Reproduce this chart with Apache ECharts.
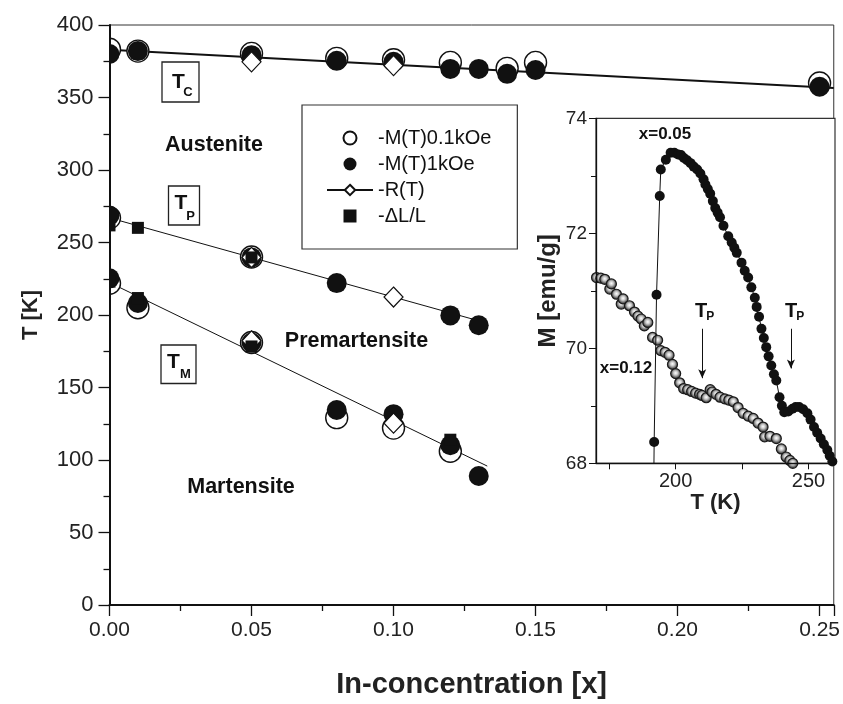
<!DOCTYPE html>
<html><head><meta charset="utf-8">
<script src="https://cdn.jsdelivr.net/npm/echarts@6/dist/echarts.min.js"></script>
<style>html,body{margin:0;padding:0;background:#fff}#c{width:843px;height:704px}</style>
</head><body><div id="c"></div>
<script>
// ---------- main panel data: [In-concentration x, T (K)] ----------
const tcOpen   = [[0,383.3],[0.01,382],[0.05,380.4],[0.08,377],[0.10,376],[0.12,374.2],[0.14,370.1],[0.15,374.2],[0.25,360]];
const tpOpen   = [[0,267],[0.05,240]];
const tmOpen   = [[0,221.9],[0.01,205],[0.05,181],[0.08,129.2],[0.10,122],[0.12,106]];
const tcFilled = [[0,380],[0.01,382],[0.05,379.2],[0.08,375.3],[0.10,374.6],[0.12,369.7],[0.13,369.7],[0.14,366.3],[0.15,369],[0.25,357.4]];
const tpFilled = [[0,268.6],[0.05,239.7],[0.08,222],[0.12,199.7],[0.13,192.9]];
const tmFilled = [[0,225.3],[0.01,208.3],[0.05,181],[0.08,134.5],[0.10,131.6],[0.12,110.2],[0.13,89]];
const rtDiamond = [[0.05,374.6],[0.10,372],[0.05,239.7],[0.10,212.4],[0.05,182.2],[0.10,125.4]];
const dlSquare  = [[0,261.8],[0.01,260.1],[0.05,239.7],[0,223],[0.01,211.7],[0.05,178.3],[0.12,114]];
const fitTc = [[0,383],[0.255,356.6]];
const fitTp = [[0,267],[0.13,196]];
const fitTm = [[0,222.4],[0.133,95.8]];

// ---------- inset data: T (K) and M (emu/g) ----------
const insetT05 = [191.3,191.9,192.8,194.0,194.4,196.3,198.1,199.5,200.9,202.0,203.1,204.3,205.6,206.8,208.1,209.3,210.5,211.2,212.1,213.0,214.0,214.9,215.8,216.7,218.0,219.8,221.1,222.1,223.0,224.8,226.0,227.3,228.5,229.8,230.5,231.4,232.3,233.2,234.1,235.0,236.0,237.0,237.9,239.1,240.0,240.9,242.4,244.0,245.2,246.5,248.0,249.6,250.8,252.1,253.3,254.6,255.8,257.1,258.0,259.0,260.0];
const insetM05 = [65.5,68.37,70.93,72.65,73.11,73.28,73.40,73.40,73.37,73.36,73.31,73.27,73.22,73.16,73.11,73.04,72.94,72.85,72.77,72.69,72.56,72.44,72.36,72.28,72.13,71.95,71.84,71.75,71.66,71.49,71.35,71.23,71.06,70.88,70.72,70.55,70.34,70.18,70.02,69.86,69.70,69.55,69.44,69.15,69.00,68.89,68.90,68.95,68.98,68.98,68.94,68.87,68.76,68.63,68.53,68.43,68.33,68.23,68.13,68.03,67.9];
const insetT12 = [170.2,171.8,173.3,175.2,175.8,177.7,179.5,180.2,182.6,184.5,185.8,187.0,188.2,189.5,191.3,193.2,194.4,196.0,197.5,198.8,200.0,201.5,203.0,204.5,206.0,207.5,209.0,209.9,211.5,213.0,213.7,215.2,216.7,218.5,220.0,221.7,223.5,225.4,227.3,229.2,231.0,232.9,233.5,235.5,237.9,239.8,241.6,243.0,244.1,245.0];
const insetM12 = [71.23,71.22,71.20,71.03,71.12,70.94,70.77,70.86,70.74,70.63,70.56,70.51,70.39,70.45,70.19,70.14,69.96,69.93,69.88,69.72,69.56,69.40,69.30,69.28,69.25,69.22,69.20,69.18,69.14,69.28,69.24,69.20,69.15,69.12,69.10,69.07,68.97,68.87,68.82,68.78,68.70,68.63,68.46,68.47,68.43,68.25,68.11,68.05,68.00,67.9];
const arrowT = [210, 243.4];
const arrowTop = [70.34, 70.34];
const arrowBottom = [69.48, 69.65];

// ---------- ticks ----------
const insetXTicks = [175, 200, 225, 250];
const insetXLabels = [200, 250];

const zip = (a, b) => a.map((v, i) => [v, b[i]]);
const FONT = 'Liberation Sans, Arial, sans-serif';

const chart = echarts.init(document.getElementById('c'), null, {renderer: 'canvas'});

function subLabel(x, y, w, h, main, sub, tx, ty, sx, sy) {
  return {
    type: 'group', z: 30, children: [
      {type: 'rect', shape: {x: x, y: y, width: w, height: h}, style: {fill: '#fff', stroke: '#222', lineWidth: 1.3}},
      {type: 'text', x: tx, y: ty, style: {text: main, font: 'bold 21px ' + FONT, fill: '#111', align: 'center', verticalAlign: 'middle'}},
      {type: 'text', x: sx, y: sy, style: {text: sub, font: 'bold 13px ' + FONT, fill: '#111', align: 'center', verticalAlign: 'middle'}}
    ]
  };
}
function plainText(x, y, t, size) {
  return {type: 'text', z: 30, x: x, y: y, style: {text: t, font: 'bold ' + size + 'px ' + FONT, fill: '#111', align: 'center', verticalAlign: 'middle'}};
}

const option = {
  animation: false,
  backgroundColor: '#fff',
  textStyle: {fontFamily: FONT},
  grid: [
    {left: 109.5, right: 8, top: 25, bottom: 92, show: true, borderColor: '#333', borderWidth: 1, backgroundColor: 'transparent'},
    {left: 596, right: 8, top: 118.3, bottom: 704 - 463.3, show: true, borderColor: '#333', borderWidth: 1.2, backgroundColor: '#fff', z: 1}
  ],
  legend: {
    orient: 'vertical', left: 302, top: 105, selectedMode: false,
    padding: [23, 26, 23, 24], itemGap: 6, itemWidth: 46, itemHeight: 13,
    borderColor: '#333', borderWidth: 1.2, backgroundColor: '#fff',
    textStyle: {fontSize: 20, lineHeight: 19, color: '#111', fontFamily: FONT},
    data: [
      {name: '-M(T)0.1kOe'},
      {name: '-M(T)1kOe'},
      {name: '-R(T)'},
      {name: '-\u0394L/L', icon: 'path://M0,0L10,0L10,10L0,10Z'}
    ]
  },
  xAxis: [
    {
      type: 'value', gridIndex: 0, min: 0, max: 0.255, interval: 0.05, z: 20,
      axisLine: {show: true, onZero: false, lineStyle: {color: '#111', width: 2}},
      axisTick: {show: true, length: 11, lineStyle: {color: '#111', width: 1.3}},
      minorTick: {show: true, splitNumber: 2, length: 6, lineStyle: {color: '#111', width: 1.3}},
      splitLine: {show: false},
      axisLabel: {show: true, margin: 15, showMaxLabel: false, fontSize: 21, color: '#222', fontFamily: FONT, formatter: v => v.toFixed(2)},
      name: 'In-concentration [x]', nameLocation: 'middle', nameGap: 65,
      nameTextStyle: {fontSize: 29, fontWeight: 'bold', color: '#222', fontFamily: FONT}
    },
    {
      type: 'value', gridIndex: 1, min: 170, max: 260, z: 20,
      axisLine: {show: true, onZero: false, lineStyle: {color: '#111', width: 1.3}},
      axisTick: {show: true, length: 6, customValues: insetXTicks, lineStyle: {color: '#111', width: 1}},
      splitLine: {show: false},
      axisLabel: {show: true, margin: 8, fontSize: 20, color: '#222', fontFamily: FONT, customValues: insetXLabels},
      name: 'T (K)', nameLocation: 'middle', nameGap: 19,
      nameTextStyle: {fontSize: 22, fontWeight: 'bold', color: '#222', fontFamily: FONT}
    }
  ],
  yAxis: [
    {
      type: 'value', gridIndex: 0, min: 0, max: 400, interval: 50, z: 20,
      axisLine: {show: true, onZero: false, lineStyle: {color: '#111', width: 2}},
      axisTick: {show: true, length: 11, lineStyle: {color: '#111', width: 1.3}},
      minorTick: {show: true, splitNumber: 2, length: 6, lineStyle: {color: '#111', width: 1.3}},
      splitLine: {show: false},
      axisLabel: {show: true, margin: 16, fontSize: 22, color: '#222', fontFamily: FONT},
      name: 'T [K]', nameLocation: 'middle', nameGap: 68,
      nameTextStyle: {fontSize: 22, fontWeight: 'bold', color: '#222', fontFamily: FONT}
    },
    {
      type: 'value', gridIndex: 1, min: 68, max: 74, interval: 2, z: 20,
      axisLine: {show: true, onZero: false, lineStyle: {color: '#111', width: 1.3}},
      axisTick: {show: true, length: 7, lineStyle: {color: '#111', width: 1}},
      minorTick: {show: true, splitNumber: 2, length: 5, lineStyle: {color: '#111', width: 1}},
      splitLine: {show: false},
      axisLabel: {show: true, margin: 9, fontSize: 19, color: '#222', fontFamily: FONT},
      name: 'M [emu/g]', nameLocation: 'middle', nameGap: 36,
      nameTextStyle: {fontSize: 24, fontWeight: 'bold', color: '#222', fontFamily: FONT}
    }
  ],
  series: [
    {type: 'line', name: 'fitTc', xAxisIndex: 0, yAxisIndex: 0, data: fitTc, showSymbol: false, symbol: 'none', z: 1,
     lineStyle: {color: '#111', width: 2}, silent: true},
    {type: 'line', name: '-R(T)', xAxisIndex: 0, yAxisIndex: 0, data: fitTp, showSymbol: false, symbol: 'diamond', z: 1,
     lineStyle: {color: '#111', width: 1}, itemStyle: {color: '#fff', borderColor: '#111', borderWidth: 1.2}, silent: true},
    {type: 'line', name: 'fitTm', xAxisIndex: 0, yAxisIndex: 0, data: fitTm, showSymbol: false, symbol: 'none', z: 1,
     lineStyle: {color: '#111', width: 1}, silent: true},
    {type: 'scatter', name: '-M(T)0.1kOe', xAxisIndex: 0, yAxisIndex: 0, data: tcOpen.concat(tpOpen, tmOpen),
     symbol: 'circle', symbolSize: 22, z: 2, itemStyle: {color: '#fff', borderColor: '#111', borderWidth: 1.4, opacity: 1}, silent: true},
    {type: 'scatter', name: '-M(T)1kOe', xAxisIndex: 0, yAxisIndex: 0, data: tcFilled.concat(tpFilled, tmFilled),
     symbol: 'circle', symbolSize: 20, z: 3, itemStyle: {color: '#111', opacity: 1}, silent: true},
    {type: 'scatter', name: '-R(T)', xAxisIndex: 0, yAxisIndex: 0, data: rtDiamond,
     symbol: 'diamond', symbolSize: [19, 20], z: 4, itemStyle: {color: '#fff', borderColor: '#111', borderWidth: 1.2, opacity: 1}, silent: true},
    {type: 'scatter', name: '-\u0394L/L', xAxisIndex: 0, yAxisIndex: 0, data: dlSquare,
     symbol: 'rect', symbolSize: 12, z: 5, itemStyle: {color: '#111', opacity: 1}, silent: true},
    {type: 'scatter', name: 'x=0.12', xAxisIndex: 1, yAxisIndex: 1, data: zip(insetT12, insetM12),
     symbol: 'circle', symbolSize: 10, z: 6, clip: true, silent: true,
     itemStyle: {opacity: 1, borderColor: '#1a1a1a', borderWidth: 1.2,
       color: {type: 'radial', x: 0.5, y: 0.45, r: 0.55, colorStops: [{offset: 0, color: '#ffffff'}, {offset: 0.35, color: '#c8c8c8'}, {offset: 0.75, color: '#555'}, {offset: 1, color: '#1e1e1e'}]}},
     markLine: {silent: true, symbol: ['none', 'arrow'], symbolSize: [6, 9], label: {show: false},
       lineStyle: {color: '#111', width: 1, type: 'solid'},
       emphasis: {disabled: true},
       data: arrowT.map((t, i) => [{coord: [t, arrowTop[i]]}, {coord: [t, arrowBottom[i]]}])}},
    {type: 'line', name: 'x=0.05', xAxisIndex: 1, yAxisIndex: 1, data: zip(insetT05, insetM05),
     symbol: 'circle', symbolSize: 10, showAllSymbol: true, z: 7, clip: true, silent: true,
     lineStyle: {color: '#111', width: 1}, itemStyle: {color: '#111', opacity: 1}}
  ],
  graphic: [
    // hide the parts of the x=0 markers that fall left of the y axis
    {type: 'rect', z: 10, shape: {x: 95, y: 30, width: 14, height: 280}, style: {fill: '#fff'}},
    subLabel(162, 62, 37, 40, 'T', 'C', 178.5, 82.5, 188, 92),
    subLabel(168.5, 186, 31, 39, 'T', 'P', 181, 203.5, 190.7, 216),
    subLabel(161, 345, 35, 38.5, 'T', 'M', 173.5, 362.5, 185.5, 374.5),
    plainText(214, 145.5, 'Austenite', 21.5),
    plainText(356.5, 341, 'Premartensite', 21.5),
    plainText(241, 487.5, 'Martensite', 21.5),
    plainText(665, 134, 'x=0.05', 17),
    plainText(626, 368, 'x=0.12', 17),
    {type: 'text', z: 30, x: 701.2, y: 311, style: {text: 'T', font: 'bold 20px ' + FONT, fill: '#111', align: 'center', verticalAlign: 'middle'}},
    {type: 'text', z: 30, x: 710.3, y: 317, style: {text: 'P', font: 'bold 12px ' + FONT, fill: '#111', align: 'center', verticalAlign: 'middle'}},
    {type: 'text', z: 30, x: 791.2, y: 311, style: {text: 'T', font: 'bold 20px ' + FONT, fill: '#111', align: 'center', verticalAlign: 'middle'}},
    {type: 'text', z: 30, x: 800.3, y: 317, style: {text: 'P', font: 'bold 12px ' + FONT, fill: '#111', align: 'center', verticalAlign: 'middle'}}
  ]
};
chart.setOption(option);
</script>
</body></html>
